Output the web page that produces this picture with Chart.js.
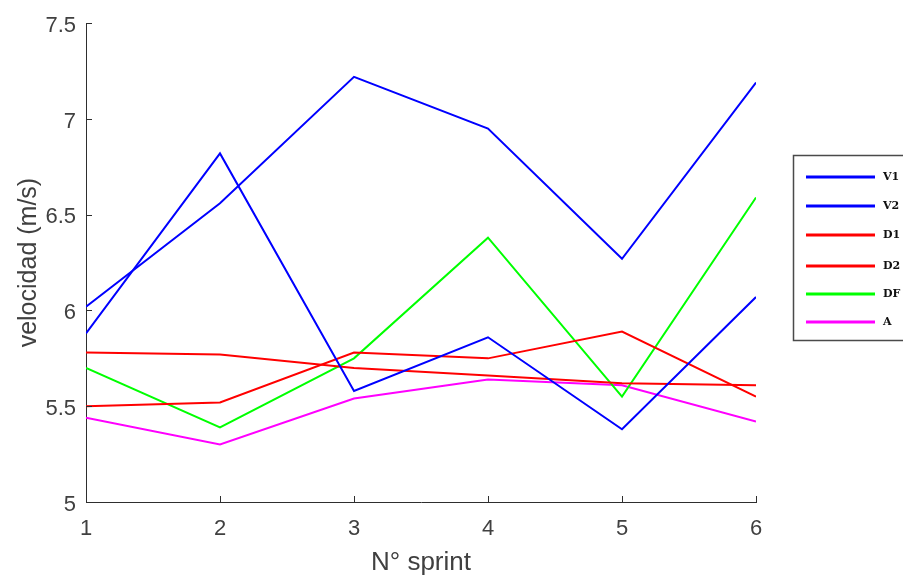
<!DOCTYPE html>
<html>
<head>
<meta charset="utf-8">
<script src="https://cdn.jsdelivr.net/npm/chart.js@4.4.1/dist/chart.umd.min.js"></script>
<style>
html,body{margin:0;padding:0;background:#fff;}
#wrap{width:903px;height:575px;position:relative;}
</style>
</head>
<body>
<div id="wrap"><canvas id="c" width="903" height="575"></canvas></div>
<script>
const sprints = [1, 2, 3, 4, 5, 6];
const seriesNames = ['V1', 'V2', 'D1', 'D2', 'DF', 'A'];
const v1 = [6.02, 6.56, 7.22, 6.95, 6.27, 7.19];
const v2 = [5.88, 6.82, 5.58, 5.86, 5.38, 6.07];
const d1 = [5.78, 5.77, 5.70, 5.66, 5.62, 5.61];
const d2 = [5.50, 5.52, 5.78, 5.75, 5.89, 5.55];
const df = [5.70, 5.39, 5.75, 6.38, 5.55, 6.59];
const a  = [5.44, 5.30, 5.54, 5.64, 5.61, 5.42];
const yTicks = [5, 5.5, 6, 6.5, 7, 7.5];
const colors = ['#0000ff', '#0000ff', '#ff0000', '#ff0000', '#00ff00', '#ff00ff'];
const allValues = [v1, v2, d1, d2, df, a];

const datasets = allValues.map((vals, i) => ({
  label: seriesNames[i],
  data: sprints.map((s, j) => ({x: s, y: vals[j]})),
  borderColor: colors[i],
  backgroundColor: colors[i],
  borderWidth: 2,
  pointRadius: 0,
  tension: 0,
  fill: false
}));

const axisColor = '#2e2e2e';
const textColor = '#404040';

const inwardTicks = {
  id: 'inwardTicks',
  afterDraw(chart) {
    const ctx = chart.ctx;
    const xs = chart.scales.x, ys = chart.scales.y;
    const ca = chart.chartArea;
    ctx.save();
    ctx.strokeStyle = axisColor;
    ctx.lineWidth = 1;
    ctx.beginPath();
    yTicks.forEach(t => {
      const y = Math.round(ys.getPixelForValue(t)) + 0.5;
      ctx.moveTo(ca.left, y); ctx.lineTo(ca.left + 6, y);
    });
    sprints.forEach(t => {
      const x = Math.round(xs.getPixelForValue(t)) + 0.5;
      ctx.moveTo(x, ca.bottom); ctx.lineTo(x, ca.bottom - 6);
    });
    ctx.stroke();
    ctx.restore();
  }
};

const boxLegend = {
  id: 'boxLegend',
  afterDraw(chart) {
    const ctx = chart.ctx;
    const left = 793.5, top = 155.5, w = 120, h = 185;
    ctx.save();
    ctx.fillStyle = '#ffffff';
    ctx.fillRect(left, top, w, h);
    ctx.strokeStyle = '#4a4a4a';
    ctx.lineWidth = 1.5;
    ctx.strokeRect(left, top, w, h);
    const rows = [177, 206, 235, 266, 294, 322];
    ctx.font = 'bold 11px "DejaVu Serif", serif';
    ctx.textBaseline = 'middle';
    chart.data.datasets.forEach((ds, i) => {
      const y = rows[i];
      ctx.strokeStyle = ds.borderColor;
      ctx.lineWidth = 3;
      ctx.beginPath();
      ctx.moveTo(806, y); ctx.lineTo(875, y);
      ctx.stroke();
      ctx.fillStyle = '#111111';
      ctx.fillText(ds.label, 883, y);
    });
    ctx.restore();
  }
};

new Chart(document.getElementById('c'), {
  type: 'line',
  data: { datasets },
  options: {
    responsive: false,
    animation: false,
    layout: { padding: { left: 0, right: 147, top: 23, bottom: 0 } },
    plugins: { legend: { display: false }, tooltip: { enabled: false } },
    scales: {
      x: {
        type: 'linear',
        min: 1, max: 6,
        afterFit(s) { s.height = 73; },
        afterBuildTicks(s) { s.ticks = sprints.map(v => ({value: v})); },
        grid: { display: false, drawTicks: false },
        border: { display: true, color: axisColor, width: 1 },
        ticks: { color: textColor, font: { family: 'Liberation Sans, Arial', size: 22 }, padding: 14, maxRotation: 0, autoSkip: false },
        title: { display: true, text: 'N° sprint', color: textColor, font: { family: 'Liberation Sans, Arial', size: 26, lineHeight: 0.9 }, padding: { top: 0, bottom: 0 } }
      },
      y: {
        type: 'linear',
        min: 5, max: 7.5,
        afterFit(s) { s.width = 86; },
        afterBuildTicks(s) { s.ticks = yTicks.map(v => ({value: v})); },
        grid: { display: false, drawTicks: false },
        border: { display: true, color: axisColor, width: 1 },
        ticks: { color: textColor, font: { family: 'Liberation Sans, Arial', size: 22 }, padding: 10, labelOffset: 2.5, autoSkip: false,
                 callback: v => String(v) },
        title: { display: true, text: 'velocidad (m/s)', color: textColor, font: { family: 'Liberation Sans, Arial', size: 25 }, padding: { top: 14, bottom: 0 } }
      }
    }
  },
  plugins: [inwardTicks, boxLegend]
});
</script>
</body>
</html>
